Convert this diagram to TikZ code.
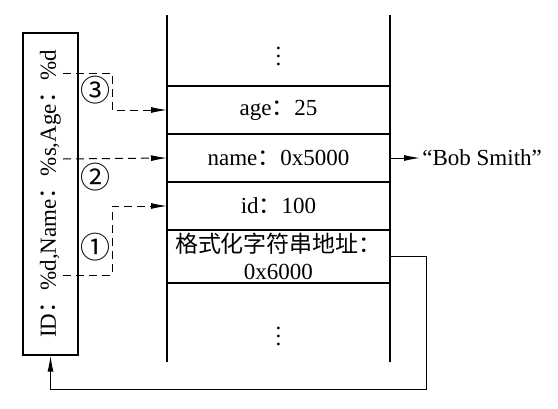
\documentclass[tikz,border=0pt]{standalone}
\usepackage{fontspec}
\setmainfont{Liberation Serif}
\newfontfamily\cjk{Noto Sans CJK SC}
\usetikzlibrary{positioning}
\usetikzlibrary{calc}
\usetikzlibrary{arrows.meta}

\begin{document}
\begin{tikzpicture}[
    x=0.5pt, y=-0.5pt,                        % pixel-like grid, y downwards
    font=\fontsize{11.5}{13.5}\selectfont,
    ]
% -------------------------------------------------
\tikzset{
  row/.style={draw, line width=0.7pt, rectangle, outer sep=0pt, minimum width=111.5pt, minimum height=24pt, inner sep=1pt, align=center},
  wall/.style={line width=0.7pt},
  fmtbox/.style={draw, line width=0.7pt, rectangle, rotate=90, minimum width=161pt, minimum height=27.5pt, inner sep=1pt},
  line/.style={draw, line width=0.5pt, -{Latex[length=8pt,width=3pt]}},
  dline/.style={line, dash pattern=on 4pt off 2.5pt},
  num/.style={font=\cjk\fontsize{15}{15}\selectfont, inner sep=0pt}
}
\useasboundingbox (0,0) rectangle (558,408);
% format string
\node [fmtbox] (box) at (50.5,194) {ID{\cjk ：}\%d,Name{\cjk ：}\%s,Age{\cjk ：}\%d};
% stack
\node [row] (age) at (278.5,110) {age{\cjk ：}25};
\node [row, below=0pt of age] (name) {name{\cjk ：}0x5000};
\node [row, below=0pt of name] (id) {id{\cjk ：}100};
\node [row, below=0pt of id, minimum height=26.5pt] (fmt) {{\cjk 格式化字符串地址：}\\0x6000};
\draw [wall] (age.north west) -- ++(0,-71);
\draw [wall] (age.north east) -- ++(0,-71);
\draw [wall] (fmt.south west) -- ++(0,79);
\draw [wall] (fmt.south east) -- ++(0,79);
\node (dtop) at (278.5,50) {$\vdots$};
\node (dbot) at (278.5,330) {$\vdots$};
\node [right=15pt of name, inner sep=1pt] (bob) {``Bob Smith''};
% specifiers
\coordinate (s3) at (63,73);
\coordinate (s2) at (63,159);
\coordinate (s1) at (63,275);
\coordinate (turn) at (426,389);
\node [num] (n3) at (95,90) {③};
\node [num] (n2) at (95,177) {②};
\node [num] (n1) at (95,247) {①};
\path [dline] (s3) -- ++(49,0) |- (age.west);
\path [dline] (s2) -- (name.west);
\path [dline] (s1) -- ++(49,0) |- (id.west);
\path [line] (name.east) -- (bob.west);
\path [line] (fmt.east) -| (turn) -| (box.west);
\end{tikzpicture}
\end{document}
